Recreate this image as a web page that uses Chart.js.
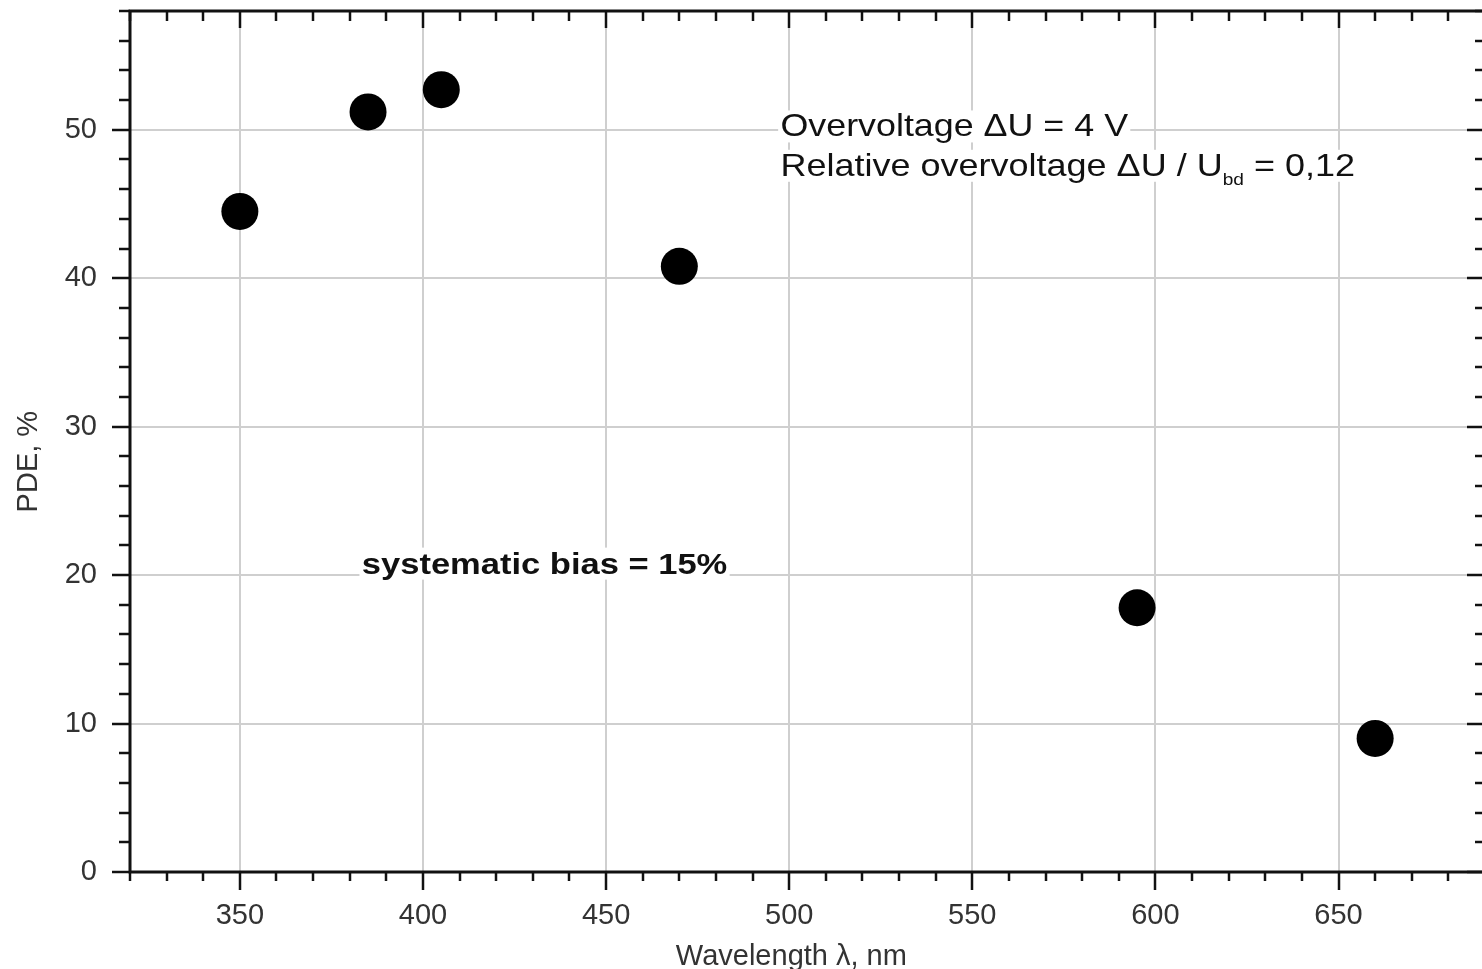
<!DOCTYPE html>
<html>
<head>
<meta charset="utf-8">
<script src="https://cdn.jsdelivr.net/npm/chart.js@4.4.0/dist/chart.umd.min.js"></script>
<style>
    html, body { margin: 0; padding: 0; background: #fff; overflow: hidden; }
    #wrap { width: 1490px; height: 969px; }
</style>
</head>
<body>
<div id="wrap"><canvas id="pdeChart" width="1490" height="969"></canvas></div>
<script>
// ---- DATA ----
const wavelengths = [350, 385, 405, 470, 595, 660];
const pdeValues = [44.5, 51.2, 52.7, 40.8, 17.8, 9.0];

const xMajorStep = 50;
const yMajorStep = 10;

const FONT = "'Liberation Sans', Arial, sans-serif";

// text drawn with a white box behind it (cuts the grid, like the original)
function boxedText(ctx, parts, x, y, sx) {
    ctx.save();
    ctx.translate(x, y);
    ctx.scale(sx, 1);
    let cx = 0;
    const pieces = parts.map(p => {
        ctx.font = p.font;
        const w = ctx.measureText(p.text).width;
        const piece = { ...p, x: cx, w: w };
        cx += w;
        return piece;
    });
    ctx.fillStyle = "#fff";
    ctx.fillRect(-2, -26, cx + 4, 32);
    pieces.forEach(p => {
        ctx.font = p.font;
        ctx.fillStyle = "#111";
        ctx.fillText(p.text, p.x, p.dy || 0);
    });
    ctx.restore();
}

const notesPlugin = {
    id: "notes",
    afterDatasetsDraw(chart) {
        const ctx = chart.ctx;
        const xs = chart.scales.x, ys = chart.scales.y;
        ctx.textBaseline = "alphabetic";

        const f1 = "32px " + FONT;
        const fSub = "17px " + FONT;
        boxedText(ctx, [{ text: "Overvoltage \u0394U = 4 V", font: f1 }],
            xs.getPixelForValue(497.6), ys.getPixelForValue(49.55), 1.12);
        boxedText(ctx, [
            { text: "Relative overvoltage \u0394U / U", font: f1 },
            { text: "bd", font: fSub, dy: 9 },
            { text: " = 0,12", font: f1 }
        ], xs.getPixelForValue(497.6), ys.getPixelForValue(46.9), 1.125);

        boxedText(ctx, [{ text: "systematic bias = 15%", font: "bold 29px " + FONT }],
            xs.getPixelForValue(383.3), ys.getPixelForValue(20.1), 1.19);
    }
};

const framePlugin = {
    id: "frame",
    afterDraw(chart) {
        const ctx = chart.ctx;
        const a = chart.chartArea;
        const xs = chart.scales.x, ys = chart.scales.y;
        ctx.save();
        ctx.strokeStyle = "#111";
        ctx.lineWidth = 2.5;
        const line = (x1, y1, x2, y2) => {
            ctx.beginPath();
            ctx.moveTo(x1, y1);
            ctx.lineTo(x2, y2);
            ctx.stroke();
        };
        xs.ticks.forEach(t => {
            const px = Math.round(xs.getPixelForValue(t.value));
            const major = t.value % xMajorStep === 0;
            line(px, a.bottom, px, a.bottom + (major ? 18 : 9));
            line(px, a.top, px, a.top + (major ? 17 : 10));
        });
        ys.ticks.forEach(t => {
            const py = Math.round(ys.getPixelForValue(t.value));
            const major = t.value % yMajorStep === 0;
            line(a.left - (major ? 18 : 11), py, a.left, py);
            line(a.right - (major ? 18 : 10), py, a.right, py);
        });
        ctx.lineWidth = 3;
        ctx.strokeRect(a.left, a.top, a.right - a.left, a.bottom - a.top);
        ctx.restore();
    }
};

const ctx = document.getElementById("pdeChart").getContext("2d");
new Chart(ctx, {
    type: "scatter",
    data: {
        datasets: [{
            label: "PDE",
            data: wavelengths.map((w, i) => ({ x: w, y: pdeValues[i] })),
            backgroundColor: "#000",
            borderWidth: 0,
            pointRadius: 18.5,
            pointHoverRadius: 18.5
        }]
    },
    options: {
        responsive: false,
        animation: false,
        layout: { autoPadding: false, padding: { top: 11, right: 5, left: 0, bottom: 0 } },
        plugins: {
            legend: { display: false },
            tooltip: { enabled: false }
        },
        scales: {
            x: {
                type: "linear",
                min: 320,
                max: 690,
                afterFit: s => {
                    s.height = 97;
                    s.paddingLeft = 0; s.paddingRight = 0;
                    s.paddingTop = 0; s.paddingBottom = 0;
                },
                border: { display: false },
                grid: {
                    drawTicks: false,
                    lineWidth: 2,
                    color: c => (c.tick && c.tick.value % xMajorStep === 0) ? "#cfcfcf" : "rgba(0,0,0,0)"
                },
                ticks: {
                    stepSize: 10,
                    autoSkip: false,
                    maxRotation: 0,
                    padding: 27,
                    color: "#333",
                    font: { family: FONT, size: 29 },
                    callback: v => v % xMajorStep === 0 ? v : ""
                },
                title: {
                    display: true,
                    // trailing spaces move it a bit left of centre, as in the original
                    text: "Wavelength \u03bb, nm    ",
                    color: "#333",
                    font: { family: FONT, size: 29 },
                    padding: { top: 0, bottom: -5 }
                }
            },
            y: {
                type: "linear",
                min: 0,
                max: 58,
                afterFit: s => {
                    s.width = 130;
                    s.paddingLeft = 0; s.paddingRight = 0;
                    s.paddingTop = 0; s.paddingBottom = 0;
                },
                border: { display: false },
                grid: {
                    drawTicks: false,
                    lineWidth: 2,
                    color: c => (c.tick && c.tick.value % yMajorStep === 0) ? "#cfcfcf" : "rgba(0,0,0,0)"
                },
                ticks: {
                    stepSize: 2,
                    autoSkip: false,
                    padding: 33,
                    color: "#333",
                    font: { family: FONT, size: 29 },
                    callback: v => v % yMajorStep === 0 ? v : ""
                },
                title: {
                    display: true,
                    // trailing spaces push the label a little below the middle, as in the original
                    text: "PDE, %     ",
                    color: "#333",
                    font: { family: FONT, size: 29 },
                    padding: { top: 12, bottom: 0 }
                }
            }
        }
    },
    plugins: [notesPlugin, framePlugin]
});
</script>
</body>
</html>
